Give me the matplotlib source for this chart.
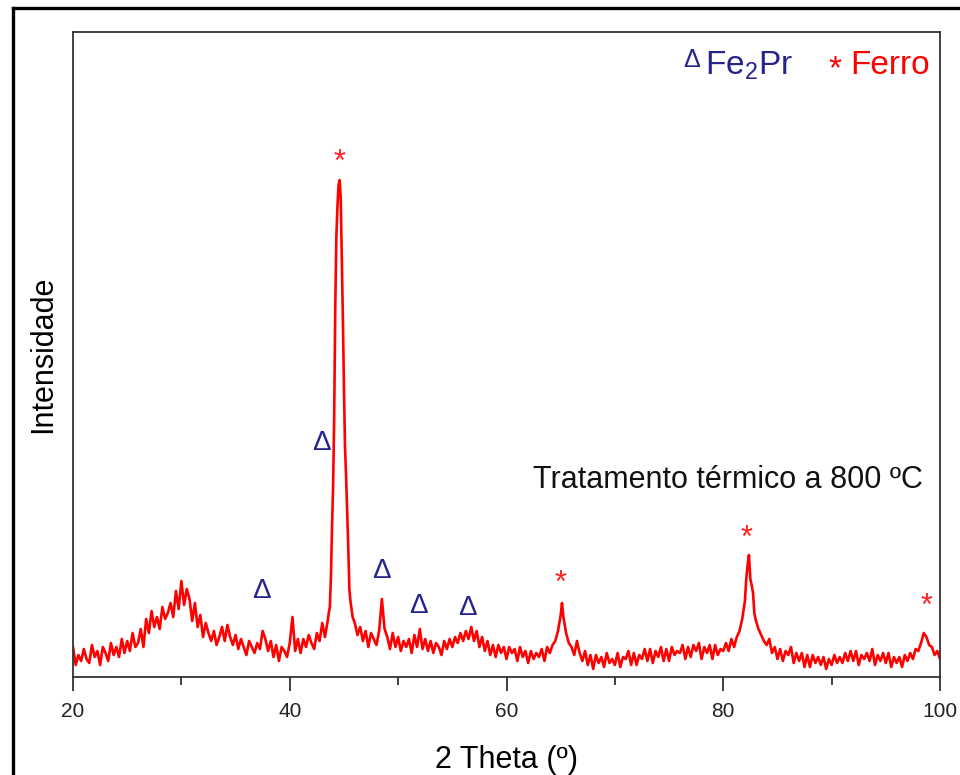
import numpy as np
import matplotlib
matplotlib.use("Agg")
import matplotlib.pyplot as plt
from matplotlib import transforms
from matplotlib.lines import Line2D

plt.rcParams["font.family"] = ["Liberation Sans", "DejaVu Sans"]
plt.rcParams["mathtext.fontset"] = "custom"
plt.rcParams["mathtext.rm"] = "Liberation Sans"

# XRD scan, 2theta in degrees and intensity in arbitrary units
two_theta = (
    [20 + 0.25 * i for i in range(0, 94)]          # 20.00 .. 43.25
    + [43.5 + 0.1 * i for i in range(0, 24)]       # 43.50 .. 45.80
    + [46 + 0.25 * i for i in range(0, 76)]        # 46.00 .. 64.75
    + [65.0, 65.12, 65.25, 65.5, 65.75]
    + [66 + 0.25 * i for i in range(0, 64)]        # 66.00 .. 81.75
    + [82.0, 82.12, 82.25, 82.37, 82.5, 82.62, 82.75, 82.87, 83.0, 83.25, 83.5, 83.75]
    + [84 + 0.25 * i for i in range(0, 57)]        # 84.00 .. 98.00
    + [98.25, 98.5, 98.75, 99.0, 99.25, 99.5, 99.75, 100.0]
)

intensity = [
    # 20 - 43.25
    30, 12, 22, 16, 28, 18, 14, 32, 20, 26, 12, 30, 24, 16, 34, 22,
    30, 20, 38, 24, 36, 26, 44, 30, 34, 48, 30, 58, 44, 66, 50, 60,
    48, 70, 58, 64, 74, 60, 86, 68, 96, 72, 88, 78, 56, 74, 50, 62,
    40, 54, 44, 36, 46, 32, 40, 50, 36, 52, 40, 32, 42, 28, 38, 30,
    22, 36, 30, 24, 34, 28, 46, 38, 26, 36, 20, 32, 16, 30, 26, 20,
    34, 60, 26, 38, 24, 38, 30, 42, 34, 28, 44, 36, 54, 40,
    # 43.5 - 45.8 (main Fe peak)
    56, 64, 70, 100, 150, 190, 260, 370, 440, 470, 492, 497,
    480, 420, 360, 290, 230, 200, 165, 130, 88, 76, 68, 60,
    # 46 - 64.75
    54, 42, 50, 36, 46, 30, 44, 38, 32, 46, 78, 48, 40, 28, 44, 30,
    40, 26, 36, 30, 38, 24, 42, 30, 48, 28, 38, 26, 36, 24, 34, 30,
    22, 36, 28, 38, 30, 40, 34, 44, 36, 46, 38, 50, 36, 46, 30, 40,
    26, 36, 22, 32, 20, 32, 24, 30, 18, 30, 24, 28, 16, 30, 20, 26,
    14, 26, 18, 24, 20, 28, 16, 30, 24, 32, 36, 46,
    # 65 - 65.75
    62, 74, 60, 44, 34,
    # 66 - 81.75
    30, 22, 36, 24, 16, 26, 12, 22, 8, 22, 14, 20, 10, 24, 14, 18,
    12, 24, 10, 20, 18, 26, 12, 24, 12, 22, 18, 28, 16, 28, 14, 26,
    20, 30, 16, 28, 16, 30, 22, 26, 24, 32, 18, 30, 20, 32, 26, 34,
    18, 30, 24, 32, 18, 32, 22, 28, 26, 34, 26, 38, 30, 40, 46, 58,
    # 82 - 83.75
    76, 98, 112, 122, 98, 92, 84, 64, 57, 48, 42, 36,
    # 84 - 98
    32, 38, 24, 30, 18, 28, 16, 26, 22, 30, 14, 24, 16, 24, 10, 22,
    10, 22, 14, 20, 12, 20, 8, 18, 12, 22, 14, 20, 14, 24, 16, 26,
    16, 26, 12, 22, 18, 24, 16, 28, 12, 22, 16, 24, 14, 24, 10, 20,
    14, 20, 10, 22, 16, 24, 18, 28, 26,
    # 98.25 - 100
    34, 44, 40, 32, 30, 22, 26, 18,
]

# phase markers: Fe2Pr (triangles) and iron (asterisks)
fe2pr_pos = [37.43, 42.88, 48.5, 51.83, 56.35]
fe2pr_h = [89, 237, 109, 74, 72]
ferro_pos = [44.63, 65.0, 82.18, 98.78]
ferro_h = [520, 99, 144, 76]

navy = "#24248c"

fig = plt.figure(figsize=(9.6, 7.75), dpi=100)
ax = fig.add_axes([73 / 960, 1 - 677 / 775, 867 / 960, 645 / 775])

ax.plot(two_theta, intensity, color="#ff0000", lw=1.9)
ax.set_xlim(20, 100)
ax.set_ylim(0, 645)

ax.set_xticks([20, 40, 60, 80, 100])
ax.set_xticks([30, 50, 70, 90], minor=True)
ax.set_yticks([])
ax.tick_params(axis="x", which="major", direction="out", length=10, width=1.3,
               color="#333333", labelsize=15, labelcolor="#222222", pad=8)
ax.tick_params(axis="x", which="minor", direction="out", length=6, width=1.3,
               color="#333333")
for s in ax.spines.values():
    s.set_color("#333333")
    s.set_linewidth(1.3)

ax.set_xlabel("2 Theta (º)", fontsize=22, labelpad=17)
ax.set_ylabel("Intensidade", fontsize=22, labelpad=11)

# glyph centres sit above the baseline, shift down in pixels
tri_tr = transforms.offset_copy(ax.transData, fig=fig, x=0, y=-10, units="dots")
star_tr = transforms.offset_copy(ax.transData, fig=fig, x=0, y=-14, units="dots")
for xp, yp in zip(fe2pr_pos, fe2pr_h):
    ax.text(xp, yp, "Δ", color=navy, fontsize=20, ha="center", va="baseline",
            transform=tri_tr)
for xp, yp in zip(ferro_pos, ferro_h):
    ax.text(xp, yp, "*", color="#ff2020", fontsize=22, ha="center", va="baseline",
            transform=star_tr)

ax.text(533, 775 - 488, "Tratamento térmico a 800 ºC", fontsize=22, color="#111111",
        transform=None, ha="left", va="baseline")

# legend written as text in the upper right
ax.text(683, 775 - 67, "Δ", fontsize=18, color=navy, transform=None,
        ha="left", va="baseline")
ax.text(705, 775 - 74, r"Fe$_{\mathregular{2}}$Pr", fontsize=24, color=navy,
        transform=None, ha="left", va="baseline")
ax.text(828, 775 - 78, "*", fontsize=24, color="#ff0000", transform=None,
        ha="left", va="baseline")
ax.text(850, 775 - 74, "Ferro", fontsize=24, color="#ff0000", transform=None,
        ha="left", va="baseline")

# outer frame, only left and top edges fall inside the canvas
fig.add_artist(Line2D([13 / 960, 13 / 960], [0, 1 - 8 / 775], color="black",
                      lw=2.4, transform=fig.transFigure))
fig.add_artist(Line2D([13 / 960, 1], [1 - 8 / 775, 1 - 8 / 775], color="black",
                      lw=2.4, transform=fig.transFigure))

fig.savefig("out.png", dpi=100)
